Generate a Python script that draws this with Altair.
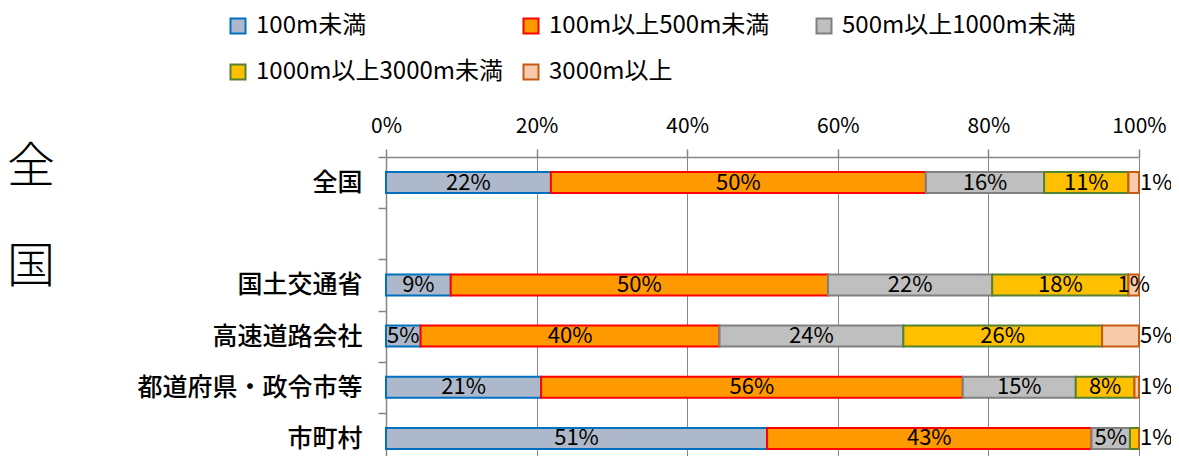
import altair as alt
import pandas as pd

categories = ["全国", "国土交通省", "高速道路会社", "都道府県・政令市等", "市町村"]
axis_order = ["全国", " ", "国土交通省", "高速道路会社", "都道府県・政令市等", "市町村"]
series = ["100m未満", "100m以上500m未満", "500m以上1000m未満", "1000m以上3000m未満", "3000m以上"]

s_lt100 = [21.9, 8.6, 4.6, 20.6, 50.6]
s_100_500 = [49.8, 50.1, 39.7, 56.0, 43.1]
s_500_1000 = [15.7, 21.8, 24.4, 15.0, 5.1]
s_1000_3000 = [11.2, 18.1, 26.4, 7.8, 1.2]
s_ge3000 = [1.4, 1.4, 4.9, 0.6, 0.0]

last_label_outside = [True, False, True, True, True]
side_label = "全\n国"
x_ticks = [0, 20, 40, 60, 80, 100]

fill_colors = ["#ADB9CA", "#FF9900", "#BFBFBF", "#FFC000", "#F8CBAD"]
stroke_colors = ["#0070C0", "#FF0000", "#808080", "#548235", "#C55A11"]

all_series = [s_lt100, s_100_500, s_500_1000, s_1000_3000, s_ge3000]
rows = []
for ci, cat in enumerate(categories):
    vals = [s[ci] for s in all_series]
    last_nz = max(i for i, v in enumerate(vals) if v > 0)
    for si, name in enumerate(series):
        v = vals[si]
        rows.append({
            "category": cat,
            "series": name,
            "order": si,
            "value": v,
            "label": f"{int(v + 0.5)}%",
            "outside": bool(last_label_outside[ci] and si == last_nz),
            "show": v >= 0.5,
        })
df = pd.DataFrame(rows)

PLOT_W = 753
PLOT_H = 299
BAND_RANGE = 307

y_scale = alt.Scale(domain=axis_order, paddingInner=0, paddingOuter=0, range=[0, BAND_RANGE])
legend = alt.Legend(title=None, direction="horizontal")
y_enc = alt.Y("category:N", sort=axis_order, scale=y_scale,
              axis=alt.Axis(title=None, tickBand="extent", labelFontSize=25, labelFontWeight=500,
                            labelPadding=16, labelLimit=400,
                            labelColor="#000000", domainColor="#868686", tickColor="#868686",
                            tickSize=8, grid=False, domainWidth=1.5, tickWidth=1.5))

bars = alt.Chart(df).mark_bar(size=21, strokeWidth=2).encode(
    x=alt.X("value:Q", stack="zero", scale=alt.Scale(domain=[0, 100], nice=False),
            axis=alt.Axis(orient="top", title=None, values=x_ticks, labelExpr="datum.value + '%'",
                          labelFontSize=21, labelColor="#000000", labelPadding=13, labelFlush=False,
                          grid=True, gridColor="#868686", gridWidth=1,
                          domainColor="#868686", domainWidth=1.5, tickColor="#868686",
                          tickSize=8, tickWidth=1.5)),
    y=y_enc,
    fill=alt.Fill("series:N", scale=alt.Scale(domain=series, range=fill_colors), legend=legend),
    stroke=alt.Stroke("series:N", scale=alt.Scale(domain=series, range=stroke_colors), legend=legend),
    order=alt.Order("order:Q"),
)

base_text = alt.Chart(df).transform_stack(
    stack="value", groupby=["category"], sort=[alt.SortField("order")], as_=["x0", "x1"]
).transform_calculate(mid="(datum.x0 + datum.x1) / 2").transform_filter("datum.show")

text_in = base_text.transform_filter("!datum.outside").mark_text(
    fontSize=22, color="#000000", align="center", baseline="middle"
).encode(x="mid:Q", y=alt.Y("category:N", sort=axis_order), text="label:N")

text_out = base_text.transform_filter("datum.outside").mark_text(
    fontSize=22, color="#000000", align="left", baseline="middle", dx=1
).encode(x=alt.X("x1:Q", scale=alt.Scale(domain=[0, 100])), y=alt.Y("category:N", sort=axis_order), text="label:N")

side = alt.Chart(pd.DataFrame({"t": [side_label]})).mark_text(
    fontSize=48, fontWeight=300, color="#000000", align="center", baseline="top",
    lineBreak="\n", lineHeight=100
).encode(x=alt.value(-355), y=alt.value(-13), text="t:N")

chart = alt.layer(bars, text_in, text_out, side).properties(
    width=PLOT_W, height=PLOT_H,
    padding={"left": 378, "top": 149, "right": 32, "bottom": 0},
    autosize=alt.AutoSizeParams(type="none"),
).configure(
    font="Noto Sans CJK JP",
).configure_view(stroke=None).configure_legend(
    orient="none", legendX=-160, legendY=-143, columns=3, gridAlign="all", direction="horizontal",
    columnPadding=15, rowPadding=22, symbolType="square", symbolSize=225,
    symbolStrokeWidth=2, symbolOpacity=1, labelFontSize=24, labelColor="#000000",
    labelOffset=6, labelLimit=400,
)

chart.save("out.html", embed_options={"renderer": "svg", "actions": False})
